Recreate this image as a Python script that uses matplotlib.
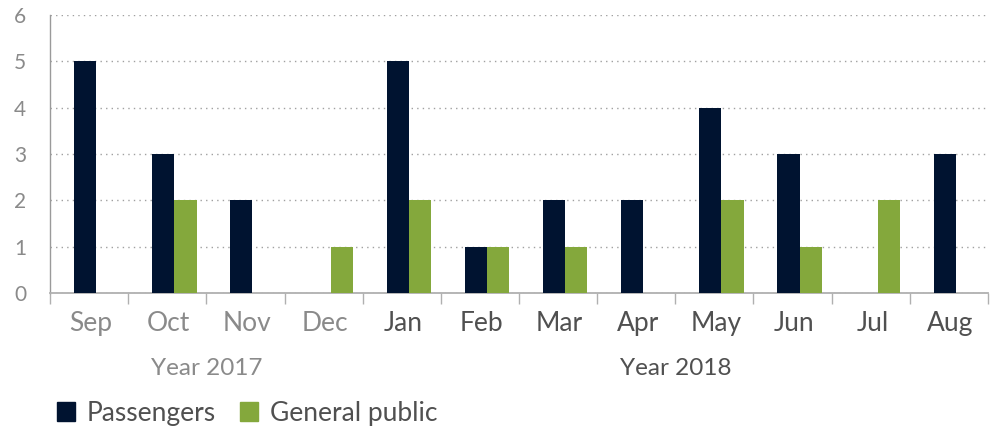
import matplotlib
matplotlib.use("Agg")
import matplotlib.pyplot as plt
import numpy as np
from matplotlib.patches import Patch

months = ["Sep", "Oct", "Nov", "Dec", "Jan", "Feb", "Mar", "Apr", "May", "Jun", "Jul", "Aug"]
passengers = [5, 3, 2, 0, 5, 1, 2, 2, 4, 3, 0, 3]
general_public = [0, 2, 0, 1, 2, 1, 1, 0, 2, 1, 2, 0]
years = ["Year 2017", "Year 2018"]
year_spans = [(0, 4), (4, 12)]

navy = "#001330"
green = "#84a83c"
grey_text = "#8a8a8a"
dark_text = "#505050"

plt.rcParams['font.family'] = ['Lato', 'DejaVu Sans']

fig = plt.figure(figsize=(9.94, 4.28), dpi=100)
ax = fig.add_axes([50/994, 1-293/428, 938/994, 278/428])

x = np.arange(len(months)) + 0.5
w = 0.285
off = 0.09
ax.bar(x + off - w/2, passengers, width=w, color=navy, zorder=3)
ax.bar(x + off + w/2, general_public, width=w, color=green, zorder=3)

ax.set_xlim(0, 12)
ax.set_ylim(0, 6)
ax.set_yticks(range(7))
ax.tick_params(axis='y', length=0, labelsize=15, labelcolor=grey_text, pad=17)
ax.yaxis.grid(True, linestyle=(0, (1, 3)), color="#a0a0a0", linewidth=1)
ax.set_axisbelow(True)

ax.set_xticks(range(13))
ax.set_xticklabels([])
ax.tick_params(axis='x', length=8, color="#b0b0b0", direction='out', width=1, pad=4)

for s in ["top", "right"]:
    ax.spines[s].set_visible(False)
ax.spines["left"].set_color("#9a9a9a")
ax.spines["bottom"].set_color("#b0b0b0")
ax.spines["left"].set_linewidth(1)
ax.spines["bottom"].set_linewidth(1.3)

for i, m in enumerate(months):
    col = grey_text if i < 4 else dark_text
    ax.text(x[i] + 0.02, -0.66, m, ha='center', va='center', fontsize=19, color=col,
            transform=ax.transData)

for (a, b), lab, col in zip(year_spans, years, [grey_text, dark_text]):
    ax.text((a + b) / 2, -1.62, lab, ha='center', va='center', fontsize=17.5,
            color=col, transform=ax.transData)

handles = [Patch(color=navy, label="Passengers"), Patch(color=green, label="General public")]
leg = fig.legend(handles=handles, loc='center left', bbox_to_anchor=(33/994, 1-413/428),
                 ncol=2, frameon=False, fontsize=19, handlelength=0.7, handleheight=0.7,
                 handletextpad=0.45, columnspacing=0.9)
for t in leg.get_texts():
    t.set_color(dark_text)

fig.savefig("out.png", dpi=100)
